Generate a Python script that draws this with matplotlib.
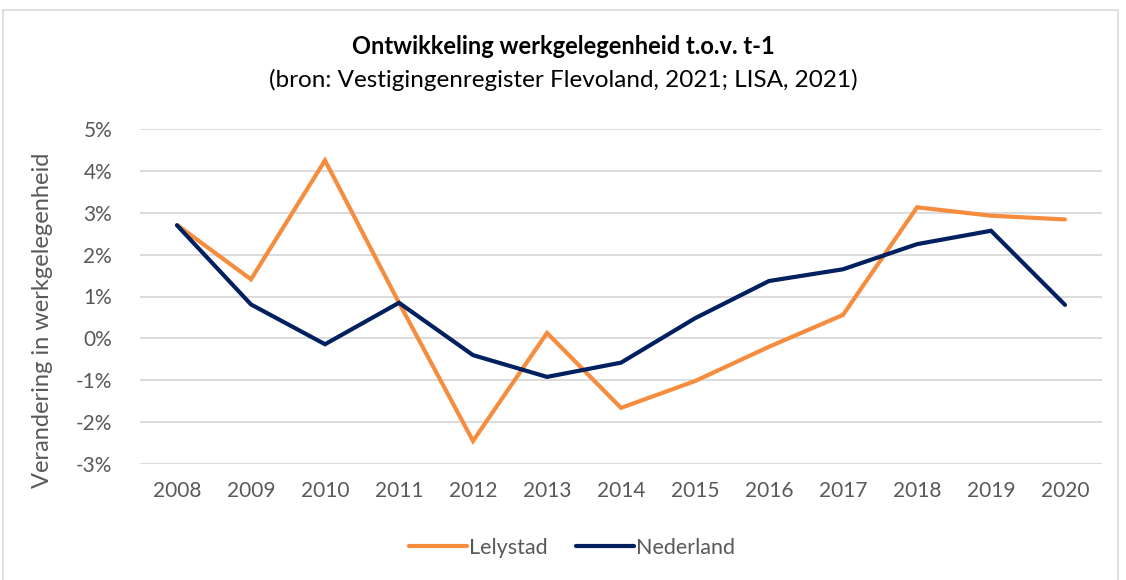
import matplotlib.pyplot as plt
from matplotlib.ticker import FuncFormatter
from matplotlib.patches import Rectangle

# values (% change vs previous year)
years = [2008, 2009, 2010, 2011, 2012, 2013, 2014, 2015, 2016, 2017, 2018, 2019, 2020]
lelystad = [2.71, 1.41, 4.25, 0.85, -2.45, 0.13, -1.66, -1.02, -0.20, 0.56, 3.13, 2.93, 2.84]
nederland = [2.70, 0.81, -0.14, 0.85, -0.40, -0.92, -0.58, 0.48, 1.37, 1.65, 2.25, 2.57, 0.80]
y_ticks = [-3, -2, -1, 0, 1, 2, 3, 4, 5]

FONT = "Lato"
GREY = "#595959"

fig = plt.figure(figsize=(11.26, 5.8), dpi=100)
ax = fig.add_axes([140 / 1126, 1 - 464 / 580, 962 / 1126, 335 / 580])

ax.plot(years, lelystad, color="#F68D3E", lw=3.0, solid_capstyle="round",
        solid_joinstyle="miter", label="Lelystad", zorder=3)
ax.plot(years, nederland, color="#002060", lw=3.0, solid_capstyle="round",
        solid_joinstyle="miter", label="Nederland", zorder=3)

ax.set_xlim(2007.5, 2020.5)
ax.set_ylim(-3, 5)
ax.set_xticks(years)
ax.set_yticks(y_ticks)
ax.yaxis.set_major_formatter(FuncFormatter(lambda v, _: f"{v:.0f}%"))
ax.grid(axis="y", color="#d9d9d9", lw=1.3, zorder=0)
ax.grid(axis="x", visible=False)
for s in ax.spines.values():
    s.set_visible(False)
ax.tick_params(length=0, labelsize=15, labelcolor=GREY)
ax.tick_params(axis="x", pad=12)
ax.tick_params(axis="y", pad=20)
for lab in ax.get_xticklabels() + ax.get_yticklabels():
    lab.set_fontfamily(FONT)

ax.set_ylabel("Verandering in werkgelegenheid", fontsize=17, color=GREY,
              fontfamily=FONT)
ax.yaxis.set_label_coords(-(140 - 53) / 962, 0.5 - 24 / 335)

fig.text(0.5, 1 - 47 / 580, "Ontwikkeling werkgelegenheid t.o.v. t-1",
         ha="center", va="center", fontsize=17, fontweight="bold",
         fontfamily=FONT, color="black")
fig.text(0.5, 1 - 80 / 580, "(bron: Vestigingenregister Flevoland, 2021; LISA, 2021)",
         ha="center", va="center", fontsize=17.5, fontfamily=FONT, color="black")

leg = fig.legend(loc="center", bbox_to_anchor=(572 / 1126, 1 - 548 / 580), ncol=2,
                 frameon=False, handlelength=2.7, handletextpad=0.1,
                 columnspacing=1.3, prop={"family": FONT, "size": 15.5})
for t in leg.get_texts():
    t.set_color(GREY)

# light border round the chart area
fig.patches.append(Rectangle((3 / 1126, -0.05), 1115 / 1126, 1 - 10 / 580 + 0.05,
                             transform=fig.transFigure, fill=False,
                             edgecolor="#d9d9d9", lw=1.2))

fig.savefig("out.png", dpi=100)
